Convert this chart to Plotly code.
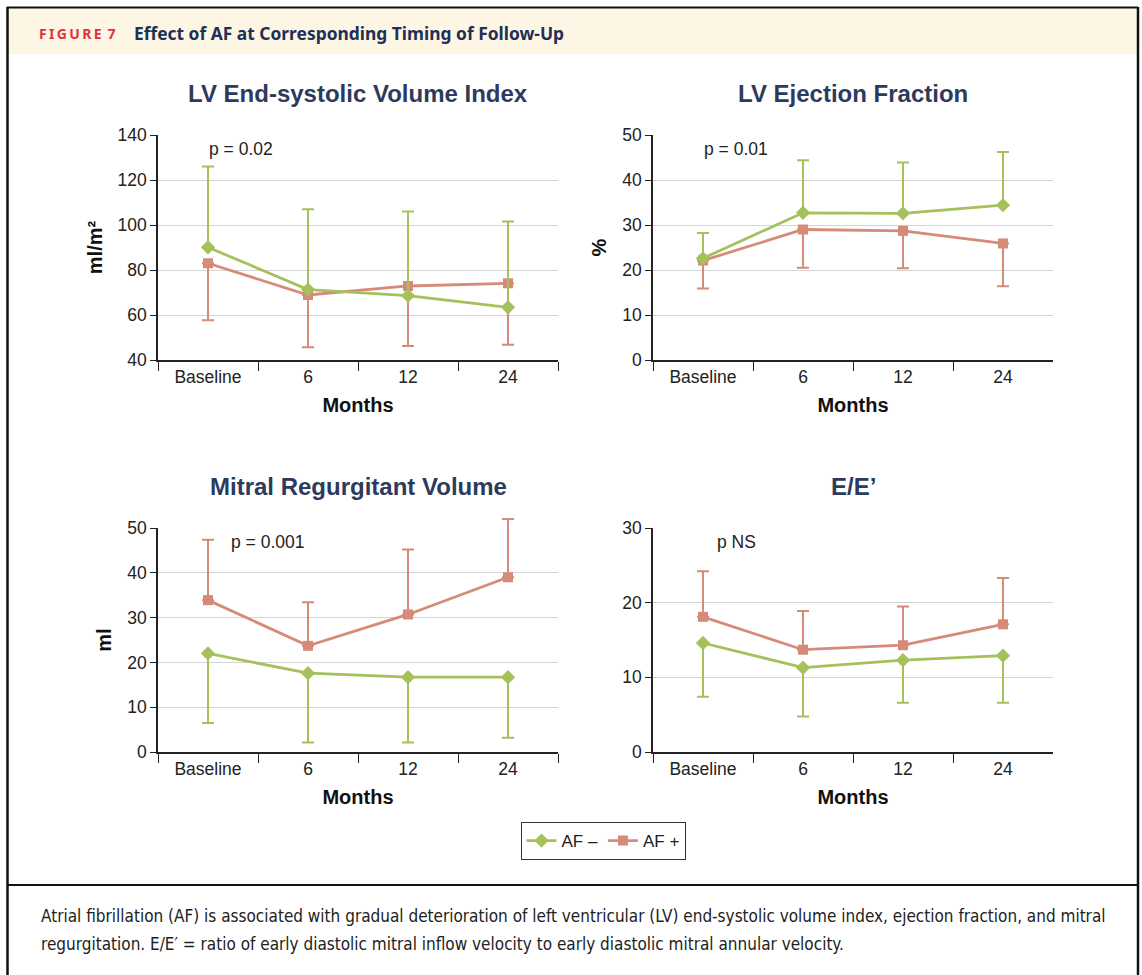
import plotly.graph_objects as go

W, H = 1142, 975

# ---- data ----
months = ["Baseline", "6", "12", "24"]

esvi_af_neg = [90.1, 71.3, 68.6, 63.4]
esvi_af_neg_hi = [126.0, 107.0, 106.0, 101.6]
esvi_af_pos = [83.0, 68.9, 72.9, 74.1]
esvi_af_pos_lo = [57.7, 45.7, 46.2, 46.8]

ef_af_neg = [22.6, 32.7, 32.6, 34.4]
ef_af_neg_hi = [28.2, 44.4, 43.9, 46.2]
ef_af_pos = [22.1, 29.0, 28.7, 25.9]
ef_af_pos_lo = [15.9, 20.5, 20.4, 16.4]

mrv_af_neg = [22.0, 17.6, 16.7, 16.7]
mrv_af_neg_lo = [6.5, 2.1, 2.1, 3.2]
mrv_af_pos = [33.9, 23.7, 30.7, 39.0]
mrv_af_pos_hi = [47.4, 33.4, 45.2, 52.0]

ee_af_neg = [14.6, 11.3, 12.3, 12.9]
ee_af_neg_lo = [7.4, 4.75, 6.6, 6.6]
ee_af_pos = [18.1, 13.7, 14.3, 17.1]
ee_af_pos_hi = [24.2, 18.9, 19.5, 23.3]

panel_titles = ["LV End-systolic Volume Index", "LV Ejection Fraction",
                "Mitral Regurgitant Volume", "E/E\u2019"]
y_titles = ["ml/m\u00b2", "%", "ml", ""]
p_labels = ["p = 0.02", "p = 0.01", "p = 0.001", "p NS"]
y_ranges = [(40, 140), (0, 50), (0, 50), (0, 30)]
y_dticks = [20, 10, 10, 10]

GREEN = "#a5c15b"
SALMON = "#d68a78"
NAVY = "#2d3a5c"
FONT = "Liberation Sans, Arial, sans-serif"


def px_x(v):
    return v / W


def px_y(v):
    return 1 - v / H


# plot-area pixel boxes (left, right, top, bottom)
boxes = [(158, 558, 135, 360), (653, 1053, 135, 360),
         (158, 558, 528, 752), (653, 1053, 528, 752)]

fig = go.Figure()


def add_series(xa, ya, vals, bound, upward, color, symbol, size, name, show):
    if upward:
        err = dict(type="data", symmetric=False,
                   array=[b - v for b, v in zip(bound, vals)],
                   arrayminus=[0] * len(vals))
    else:
        err = dict(type="data", symmetric=False,
                   array=[0] * len(vals),
                   arrayminus=[v - b for b, v in zip(bound, vals)])
    err.update(color=color, thickness=2, width=6)
    fig.add_trace(go.Scatter(
        x=months, y=vals, mode="lines+markers", name=name,
        line=dict(color=color, width=2.8),
        marker=dict(symbol=symbol, size=size, color=color),
        error_y=err, showlegend=show, cliponaxis=False,
        xaxis=xa, yaxis=ya))


DIA, SQ = 11, 10
# ESVI
add_series("x", "y", esvi_af_pos, esvi_af_pos_lo, False, SALMON, "square", SQ, "AF +", False)
add_series("x", "y", esvi_af_neg, esvi_af_neg_hi, True, GREEN, "diamond", DIA, "AF \u2013", True)
# EF
add_series("x2", "y2", ef_af_pos, ef_af_pos_lo, False, SALMON, "square", SQ, "AF +", False)
add_series("x2", "y2", ef_af_neg, ef_af_neg_hi, True, GREEN, "diamond", DIA, "AF \u2013", False)
# MRV (AF+ on a taller companion axis so its top whisker can rise above 50)
add_series("x3", "y3", mrv_af_neg, mrv_af_neg_lo, False, GREEN, "diamond", DIA, "AF \u2013", False)
add_series("x3", "y5", mrv_af_pos, mrv_af_pos_hi, True, SALMON, "square", SQ, "AF +", True)
# E/E'
add_series("x4", "y4", ee_af_neg, ee_af_neg_lo, False, GREEN, "diamond", DIA, "AF \u2013", False)
add_series("x4", "y4", ee_af_pos, ee_af_pos_hi, True, SALMON, "square", SQ, "AF +", False)

layout = dict(
    width=W, height=H, autosize=False,
    margin=dict(l=0, r=0, t=0, b=0, autoexpand=False),
    paper_bgcolor="white", plot_bgcolor="rgba(0,0,0,0)",
    font=dict(family=FONT, size=17, color="#222"),
    showlegend=True,
    legend=dict(orientation="h", x=px_x(603), xanchor="center",
                y=px_y(822), yanchor="top", bordercolor="#333", borderwidth=1,
                font=dict(size=17, color="#222"), traceorder="normal",
                itemwidth=30, bgcolor="white"),
)

annotations = []
shapes = []

for i, (l, r, t, b) in enumerate(boxes):
    ax = "" if i == 0 else str(i + 1)
    layout["xaxis" + ax] = dict(
        domain=[px_x(l), px_x(r)], anchor="y" + ax, type="category",
        range=[-0.5, 3.5], tickson="boundaries", ticks="outside", ticklen=9,
        tickcolor="#222", showline=True, linecolor="#222", linewidth=1.5,
        showgrid=False, automargin=False, tickfont=dict(size=17.5, color="#222"),
        title=dict(text="<b>Months</b>", font=dict(size=20, color="#111"), standoff=12),
    )
    lo, hi = y_ranges[i]
    layout["yaxis" + ax] = dict(
        domain=[px_y(b), px_y(t)], anchor="x" + ax, range=[lo, hi],
        dtick=y_dticks[i], ticks="outside", ticklen=6, tickcolor="#222",
        showline=True, linecolor="#222", linewidth=1.5, automargin=False,
        showgrid=True, gridcolor="#d4d4d4", gridwidth=1, zeroline=False,
        tickfont=dict(size=17.5, color="#222"),
        title=dict(text="<b>%s</b>" % y_titles[i] if y_titles[i] else "",
                   font=dict(size=20, color="#111"), standoff=10),
    )
    # panel title
    annotations.append(dict(
        text="<b>%s</b>" % panel_titles[i], xref="paper", yref="paper",
        x=px_x((l + r) / 2), y=px_y(t - 42), xanchor="center", yanchor="middle",
        showarrow=False, font=dict(size=24, color=NAVY, family=FONT)))
    # p value label
    annotations.append(dict(
        text=p_labels[i], xref="paper", yref="paper",
        x=px_x(l + (49 if i < 2 else (71 if i == 2 else 62))), y=px_y(t + 14),
        xanchor="left", yanchor="middle", showarrow=False,
        font=dict(size=17.5, color="#222", family=FONT)))

# companion axis for the regurgitant-volume AF+ series: same scale as y3, taller domain
l3, r3, t3, b3 = boxes[2]
lo3, hi3 = y_ranges[2]
ext = 60
top5 = b3 - (b3 - t3) * (ext - lo3) / (hi3 - lo3)
layout["yaxis5"] = dict(domain=[px_y(b3), px_y(top5)], anchor="x3",
                        range=[lo3, ext], visible=False, showgrid=False,
                        automargin=False)

# header band and frame (all kept inside the paper)
shapes.append(dict(type="rect", xref="paper", yref="paper",
                   x0=px_x(8), x1=px_x(1137), y0=px_y(54), y1=px_y(8),
                   fillcolor="#fdf6e4", line=dict(width=0), layer="below"))
shapes.append(dict(type="line", xref="paper", yref="paper",
                   x0=px_x(7), x1=px_x(1138), y0=px_y(7.5), y1=px_y(7.5),
                   line=dict(color="#111", width=2)))
shapes.append(dict(type="line", xref="paper", yref="paper",
                   x0=px_x(7.5), x1=px_x(7.5), y0=px_y(7), y1=0,
                   line=dict(color="#111", width=2.5)))
shapes.append(dict(type="line", xref="paper", yref="paper",
                   x0=px_x(1138), x1=px_x(1138), y0=px_y(7), y1=0,
                   line=dict(color="#111", width=2.5)))
shapes.append(dict(type="line", xref="paper", yref="paper",
                   x0=px_x(7), x1=px_x(1138), y0=px_y(885), y1=px_y(885),
                   line=dict(color="#111", width=2)))

annotations.append(dict(
    text="<b>F\u2009I\u2009G\u2009U\u2009R\u2009E\u2009 7</b>", xref="paper", yref="paper",
    x=px_x(37), y=px_y(33), xanchor="left", yanchor="middle", showarrow=False,
    font=dict(size=14, color="#e2323c", family="Noto Sans, sans-serif")))
annotations.append(dict(
    text="<b>Effect of AF at Corresponding Timing of Follow-Up</b>",
    xref="paper", yref="paper", x=px_x(132), y=px_y(33),
    xanchor="left", yanchor="middle", showarrow=False,
    font=dict(size=17.4, color="#1f2f55", family="Noto Sans, sans-serif")))

caption = [
    "Atrial fibrillation (AF) is associated with gradual deterioration of left ventricular (LV) "
    "end-systolic volume index, ejection fraction, and mitral",
    "regurgitation. E/E\u2032 = ratio of early diastolic mitral inflow velocity to early "
    "diastolic mitral annular velocity.",
]
for j, line in enumerate(caption):
    annotations.append(dict(
        text=line, xref="paper", yref="paper", x=px_x(39), y=px_y(916 + 28 * j),
        xanchor="left", yanchor="middle", showarrow=False,
        font=dict(size=17, color="#222", family="DejaVu Sans Condensed, DejaVu Sans, sans-serif")))

layout["annotations"] = annotations
layout["shapes"] = shapes
fig.update_layout(**layout)

fig.write_html("out.html", config={"responsive": False})
